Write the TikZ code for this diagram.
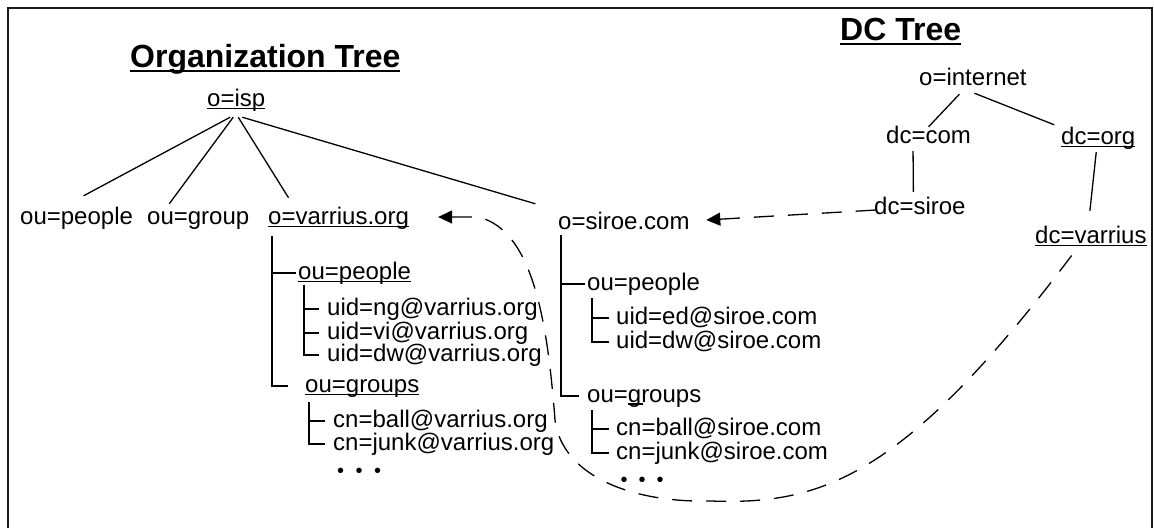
\documentclass[tikz,border=0pt]{standalone}
\usepackage{fontspec}
\setmainfont{Liberation Sans}
\usetikzlibrary{arrows.meta,calc}
\newcommand\ulx[1]{\setbox0=\hbox{#1}\rlap{\rule[-3pt]{\wd0}{1.3pt}}\box0}
\newcommand\ulbig[1]{\setbox0=\hbox{#1}\rlap{\rule[-5pt]{\wd0}{2.2pt}}\box0}
\begin{document}
\begin{tikzpicture}[x=1pt,y=-1pt,
  lbl/.style={anchor=base west, inner sep=0pt, text height=17pt, text depth=5pt, font=\fontsize{24}{28}\selectfont},
  ttl/.style={anchor=base west, inner sep=0pt, font=\fontsize{32}{38}\selectfont\bfseries},
  tree/.style={line width=1.3pt},
  dotrow/.style={inner sep=0pt, font=\fontsize{20}{22}\selectfont},
  link/.style={line width=1.3pt, dash pattern=on 20pt off 14pt, {Triangle[length=14pt,width=13pt]}-},
  frame/.style={line width=2.2pt, color=black!90}]
\useasboundingbox (0,0) rectangle (1154,528);
\draw[frame] (8,528) -- (8,8) -- (1152,8) -- (1152,528);

% titles
\node[ttl] (orgtitle) at (130,67) {\ulbig{Organization Tree}};
\node[ttl] (dctitle) at (840,40) {\ulbig{DC Tree}};

% DC tree
\node[lbl] (oint) at (919,85) {o=internet};
\node[lbl] (dccom) at (886,143) {dc=com};
\node[lbl] (dcorg) at (1061,144) {\ulx{dc=org}};
\node[lbl] (dcsiroe) at (874,214) {dc=siroe};
\node[lbl] (dcvar) at (1035,243) {\ulx{dc=varrius}};

% organization tree
\node[lbl] (oisp) at (207,106) {\ulx{o=isp}};
\node[lbl] (oupeople) at (20,224) {ou=people};
\node[lbl] (ougroup) at (147,224) {ou=group};
\node[lbl] (ovar) at (268,224) {\ulx{o=varrius.org}};
\node[lbl] (osiroe) at (558,229) {o=siroe.com};

\node[lbl] (vpeople) at (298,279) {\ulx{ou=people}};
\node[lbl] (ung) at (327,315) {uid=ng@varrius.org};
\node[lbl] (uvi) at (327,339) {uid=vi@varrius.org};
\node[lbl] (udw) at (327,361) {uid=dw@varrius.org};
\node[lbl] (vgroups) at (305,392) {\ulx{ou=groups}};
\node[lbl] (cball) at (333,427) {cn=ball@varrius.org};
\node[lbl] (cjunk) at (333,450) {cn=junk@varrius.org};
\node[dotrow] (vdots) at (359,473) {•\hspace{11.5pt}•\hspace{11.5pt}•};

\node[lbl] (speople) at (587,290) {ou=people};
\node[lbl] (sed) at (616,324) {uid=ed@siroe.com};
\node[lbl] (sdw) at (616,348) {uid=dw@siroe.com};
\node[lbl] (sgroups) at (587,402) {ou=groups};
\node[lbl] (sball) at (616,435) {cn=ball@siroe.com};
\node[lbl] (sjunk) at (616,459) {cn=junk@siroe.com};
\node[dotrow] (sdots) at (642,482) {•\hspace{11pt}•\hspace{11pt}•};

% DC tree edges
\draw[tree] ([shift={(-13.5,4)}]oint.south) -- ([shift={(0,1)}]dccom.north);
\draw[tree] ([shift={(1.5,3)}]oint.south) -- ([shift={(-44,-2)}]dcorg.north);
\draw[tree] ([shift={(-15.5,3)}]dccom.south) -- ([shift={(-6.5,-5)}]dcsiroe.north);
\draw[tree] ([shift={(-2,3)}]dcorg.south) -- ([shift={(-1,-15)}]dcvar.north);

% organization tree edges
\draw[tree] ([shift={(-6,6)}]oisp.south) -- ([shift={(7,-11)}]oupeople.north);
\draw[tree] ([shift={(-3,6)}]oisp.south) -- ([shift={(-29,-3)}]ougroup.north);
\draw[tree] ([shift={(2,6)}]oisp.south) -- ([shift={(-50,-9)}]ovar.north);
\draw[tree] ([shift={(6,6)}]oisp.south) -- ([shift={(-88.5,-8)}]osiroe.north);

% varrius subtree
\draw[tree] ([shift={(4,7)}]ovar.south west) |- ([shift={(-17,0)}]vgroups.west);
\draw[tree] ([shift={(-26,0)}]vpeople.west) -- ([shift={(-2,0)}]vpeople.west);
\draw[tree] ([shift={(6,1)}]vpeople.south west) |- ([shift={(-8,0)}]udw.west);
\draw[tree] ([shift={(-23,0)}]ung.west) -- ([shift={(-8,0)}]ung.west);
\draw[tree] ([shift={(-23,0)}]uvi.west) -- ([shift={(-8,0)}]uvi.west);
\draw[tree] ([shift={(4,5)}]vgroups.south west) |- ([shift={(-8,0)}]cjunk.west);
\draw[tree] ([shift={(-24,0)}]cball.west) -- ([shift={(-8,0)}]cball.west);

% siroe subtree
\draw[tree] ([shift={(3,1)}]osiroe.south west) |- ([shift={(-8,0)}]sgroups.west);
\draw[tree] ([shift={(-26,0)}]speople.west) -- ([shift={(-2,0)}]speople.west);
\draw[tree] ([shift={(5,3)}]speople.south west) |- ([shift={(-7,0)}]sdw.west);
\draw[tree] ([shift={(-24,0)}]sed.west) -- ([shift={(-7,0)}]sed.west);
\draw[tree] ([shift={(5,3)}]sgroups.south west) |- ([shift={(-7,0)}]sjunk.west);
\draw[tree] ([shift={(-24,0)}]sball.west) -- ([shift={(-7,0)}]sball.west);
\draw[line width=1.1pt] ([shift={(41,2)}]sgroups.base west) -- ([shift={(56,2)}]sgroups.base west);

% cross links (drawn from the arrow tip back to the source)
\coordinate (w1) at (711,501);
\coordinate (w2) at (555,420);
\coordinate (w3) at (478,217);
\draw[link] ([shift={(16.5,-3)}]osiroe.east) -- ([shift={(2,2)}]dcsiroe.west);
\draw[link] ([shift={(29,-1)}]ovar.east) -- (w3)
  .. controls (535,230) and (548,330) .. (w2)
  .. controls (562,475) and (630,503) .. (w1)
  .. controls (820,505) and (903,479) .. ([shift={(-19,7)}]dcvar.south);
\end{tikzpicture}
\end{document}
